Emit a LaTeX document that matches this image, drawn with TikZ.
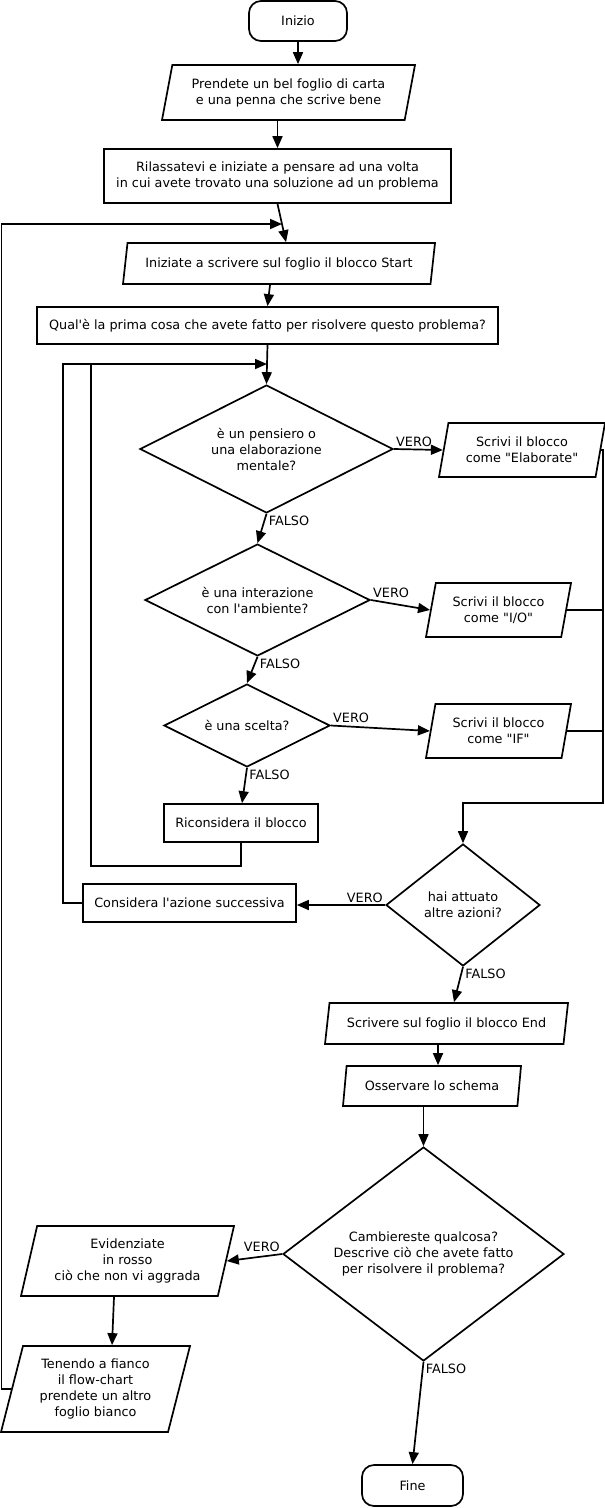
\documentclass[tikz,border=0pt]{standalone}
\usepackage{fontspec}
\setmainfont{DejaVu Sans}
\usetikzlibrary{shapes.geometric,arrows.meta}
\begin{document}
\begin{tikzpicture}[x=1pt,y=-1pt,
  txt/.style={font=\fontsize{12.8}{16}\selectfont},
  base/.style={txt, draw, line width=1.7pt, align=center, inner sep=0pt},
  proc/.style={base, rectangle},
  term/.style={base, rectangle, rounded corners=12pt},
  inout/.style={base, trapezium, trapezium left angle=70, trapezium right angle=110, trapezium stretches body=true},
  dec/.style={base, diamond},
  lbl/.style={txt, inner sep=1.5pt},
  line/.style={line width=1.7pt},
  arr/.style={line, -{Triangle[length=12pt,width=10pt]}}]
\fill[white] (0,0) rectangle (605,1508);
\useasboundingbox (0,0) rectangle (605,1508);

% nodes
\node[term, minimum width=98, minimum height=40] (inizio) at (298,21) {Inizio};
\node[inout, minimum width=253, minimum height=55] (prendete) at (288.5,92.5) {Prendete un bel foglio di carta\\e una penna che scrive bene};
\node[proc, minimum width=347, minimum height=54] (rilass) at (277.5,176) {Rilassatevi e iniziate a pensare ad una volta\\in cui avete trovato una soluzione ad un problema};
\node[inout, minimum width=312, minimum height=41] (start) at (279,263.5) {Iniziate a scrivere sul foglio il blocco Start};
\node[proc, minimum width=461, minimum height=37] (qual) at (267.5,325.5) {Qual\textquotesingle è la prima cosa che avete fatto per risolvere questo problema?};
\node[dec, shape aspect=1.98, minimum width=253, minimum height=128] (d1) at (266.5,449) {è un pensiero o\\una elaborazione\\mentale?};
\node[inout, minimum width=166, minimum height=54] (elab) at (522,450) {Scrivi il blocco\\come \textquotedbl{}Elaborate\textquotedbl{}};
\node[dec, shape aspect=2, minimum width=225, minimum height=112] (d2) at (257.5,600) {è una interazione\\con l\textquotesingle ambiente?};
\node[inout, minimum width=145, minimum height=54] (io) at (498.5,610) {Scrivi il blocco\\come \textquotedbl{}I/O\textquotedbl{}};
\node[dec, shape aspect=2, minimum width=166, minimum height=83] (d3) at (247,725.5) {è una scelta?};
\node[inout, minimum width=145, minimum height=54] (ifb) at (498.5,731) {Scrivi il blocco\\come \textquotedbl{}IF\textquotedbl{}};
\node[proc, minimum width=154, minimum height=38] (ricon) at (241,823) {Riconsidera il blocco};
\node[dec, shape aspect=1.26, minimum width=154, minimum height=122] (hai) at (463,905) {hai attuato\\altre azioni?};
\node[proc, minimum width=213, minimum height=38] (cons) at (189.5,903) {Considera l\textquotesingle azione successiva};
\node[inout, minimum width=243, minimum height=41] (endb) at (446.5,1023.5) {Scrivere sul foglio il blocco End};
\node[inout, minimum width=178, minimum height=40] (oss) at (432,1086) {Osservare lo schema};
\node[dec, shape aspect=1.31, minimum width=281, minimum height=214] (cam) at (423.5,1254) {Cambiereste qualcosa?\\Descrive ciò che avete fatto\\per risolvere il problema?};
\node[inout, minimum width=213, minimum height=70] (evid) at (127.5,1261) {Evidenziate\\in rosso\\ciò che non vi aggrada};
\node[inout, minimum width=189, minimum height=86] (ten) at (95.5,1389) {Tenendo a fianco\\il flow-chart\\prendete un altro\\foglio bianco};
\node[term, minimum width=101, minimum height=41] (fine) at (412.5,1485.5) {Fine};

% helper coordinates
\coordinate (jA) at (282,224);
\coordinate (jB) at (267,364);
\coordinate (jC) at (0,803);
\coordinate (rb) at (0,866);
\coordinate (lx0) at (1.5,0);
\coordinate (lx1) at (63,0);
\coordinate (lx2) at (91,0);
\coordinate (rx) at (603,0);

% connectors
\draw[arr] (inizio.south) -- (inizio.south |- prendete.north);
\draw[arr] (rilass.north |- prendete.south) -- (rilass.north);
\draw[arr] (rilass.south) -- ([xshift=7]start.north);
\draw[arr] (ten.west) -- (ten.west -| lx0) -- (lx0 |- jA) -- (jA);
\draw[arr] ([xshift=-9]start.south) -- (qual.north);
\draw[arr] (qual.south) -- (d1.north);
\draw[arr] (cons.west) -- (cons.west -| lx1) -- (lx1 |- jB) -- (jB);
\draw[line] (ricon.south) -- (ricon.south |- rb) -- (lx2 |- rb) -- (lx2 |- jB);

\draw[arr] (d1.east) -- node[lbl, pos=0, anchor=south west]{VERO} (elab.west);
\draw[arr] (d1.south) -- node[lbl, pos=0, anchor=north west]{FALSO} (d2.north);
\draw[arr] (d2.east) -- node[lbl, pos=0, anchor=south west]{VERO} (io.west);
\draw[arr] (d2.south) -- node[lbl, pos=0, anchor=north west]{FALSO} (d3.north);
\draw[arr] (d3.east) -- node[lbl, pos=0, anchor=south west]{VERO} (ifb.west);
\draw[arr] (d3.south) -- node[lbl, pos=0, anchor=north west]{FALSO} ([xshift=1]ricon.north);

\draw[arr] (elab.east) -- (elab.east -| rx) -- (rx |- jC) -| (hai.north);
\draw[line] (io.east) -- (io.east -| rx);
\draw[line] (ifb.east) -- (ifb.east -| rx);

\draw[arr] (hai.west) -- node[lbl, pos=0, anchor=south east]{VERO} (hai.west -| cons.east);
\draw[arr] (hai.south) -- node[lbl, pos=0, anchor=north west]{FALSO} ([xshift=7.5]endb.north);
\draw[arr] ([xshift=-8.5]endb.south) -- ([xshift=-8.5]endb.south |- oss.north);
\draw[arr] (cam.north |- oss.south) -- (cam.north);
\draw[arr] (cam.west) -- node[lbl, pos=0, anchor=south east]{VERO} (evid.east);
\draw[arr] ([xshift=-13.5]evid.south) -- ([xshift=16.5]ten.north);
\draw[arr] (cam.south) -- node[lbl, pos=0, anchor=north west]{FALSO} (fine.north);
\end{tikzpicture}
\end{document}
